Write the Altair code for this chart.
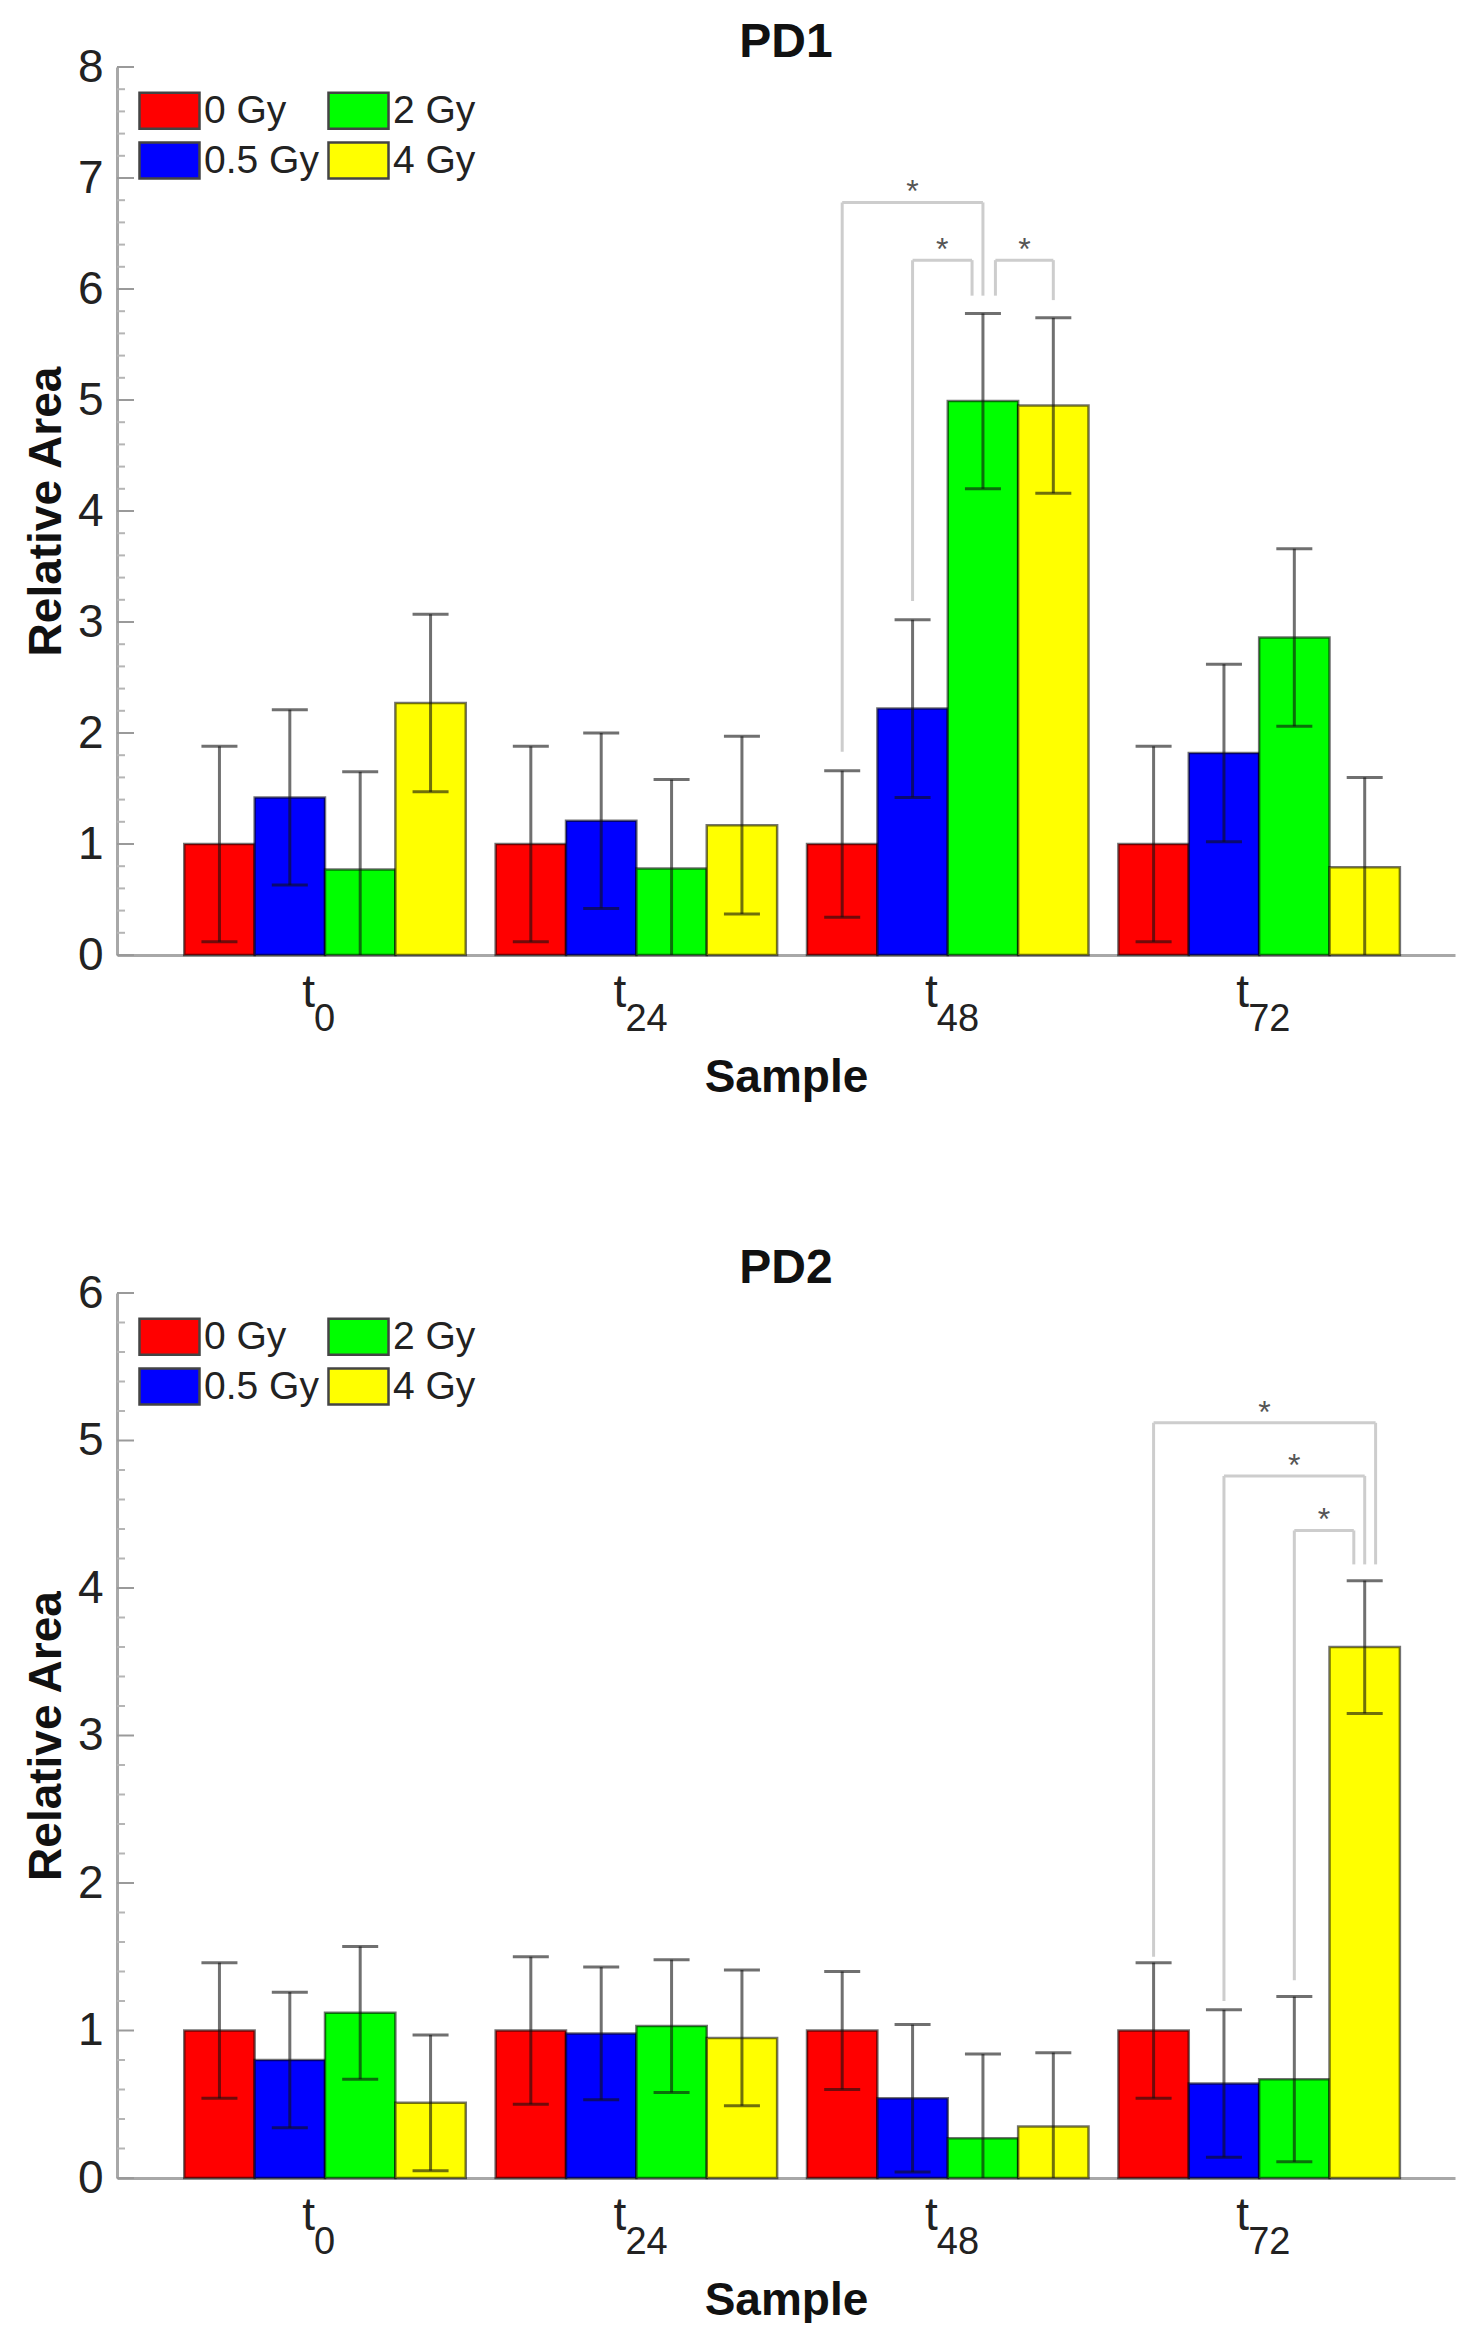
import altair as alt
import pandas as pd

FONT = "Liberation Sans, Arial, Helvetica, sans-serif"

SAMPLES = ["0", "24", "48", "72"]          # subscripts of the t labels
DOSES = ["0 Gy", "0.5 Gy", "2 Gy", "4 Gy"]
DOSE_COLORS = ["#ff0000", "#0000ff", "#00ff00", "#ffff00"]
LEGEND_ORDER = ["0 Gy", "2 Gy", "0.5 Gy", "4 Gy"]   # column-major legend

# PD1: mean relative area per dose, one value per sample (t0, t24, t48, t72)
PD1_0GY = [1.00, 1.00, 1.00, 1.00]
PD1_05GY = [1.42, 1.21, 2.22, 1.82]
PD1_2GY = [0.77, 0.78, 4.99, 2.86]
PD1_4GY = [2.27, 1.17, 4.95, 0.79]
PD1_ERR_0GY = [0.88, 0.88, 0.66, 0.88]
PD1_ERR_05GY = [0.79, 0.79, 0.80, 0.80]
PD1_ERR_2GY = [0.88, 0.80, 0.79, 0.80]
PD1_ERR_4GY = [0.80, 0.80, 0.79, 0.81]

# PD2
PD2_0GY = [1.00, 1.00, 1.00, 1.00]
PD2_05GY = [0.80, 0.98, 0.54, 0.64]
PD2_2GY = [1.12, 1.03, 0.27, 0.67]
PD2_4GY = [0.51, 0.95, 0.35, 3.60]
PD2_ERR_0GY = [0.46, 0.50, 0.40, 0.46]
PD2_ERR_05GY = [0.46, 0.45, 0.50, 0.50]
PD2_ERR_2GY = [0.45, 0.45, 0.57, 0.56]
PD2_ERR_4GY = [0.46, 0.46, 0.50, 0.45]

# significance brackets: (sample, dose) of each end, heights of bar/legs
PD1_BR_FROM = [(2, 0), (2, 1), (2, 2)]
PD1_BR_TO = [(2, 2), (2, 2), (2, 3)]
PD1_BR_TOP = [6.78, 6.26, 6.26]
PD1_BR_FROM_Y = [1.83, 3.19, 5.94]
PD1_BR_TO_Y = [5.94, 5.94, 5.90]
PD1_BR_NUDGE = [(0.0, 0.0), (0.0, -0.035), (0.04, 0.0)]

PD2_BR_FROM = [(3, 0), (3, 1), (3, 2)]
PD2_BR_TO = [(3, 3), (3, 3), (3, 3)]
PD2_BR_TOP = [5.12, 4.76, 4.39]
PD2_BR_FROM_Y = [1.50, 1.20, 1.34]
PD2_BR_TO_Y = [4.16, 4.16, 4.16]
PD2_BR_NUDGE = [(0.0, 0.035), (0.0, 0.0), (0.0, -0.035)]

BAR_W = 0.226
X_DOMAIN = [-0.668, 3.629]
PLOT_W = 1338


def bar_x(g, k):
    return g + (k - 1.5) * BAR_W


def make_panel(title, means, errs, ymax, height, br_from, br_to, br_top, br_from_y, br_to_y, br_nudge):
    rows = []
    for k, dose in enumerate(DOSES):
        for g in range(len(SAMPLES)):
            x = bar_x(g, k)
            m, e = means[k][g], errs[k][g]
            rows.append({"dose": dose, "x": x, "x0": x - BAR_W / 2, "x1": x + BAR_W / 2,
                         "mean": m, "lo": m - e, "hi": m + e})
    df = pd.DataFrame(rows)
    caps = pd.concat([df[["x", "lo"]].rename(columns={"lo": "y"}),
                      df[["x", "hi"]].rename(columns={"hi": "y"})])

    segs, stars = [], []
    for (fg, fk), (tg, tk), top, fy, ty, (nf, nt) in zip(br_from, br_to, br_top, br_from_y, br_to_y, br_nudge):
        xa, xb = bar_x(fg, fk) + nf, bar_x(tg, tk) + nt
        segs += [{"x": xa, "x2": xa, "y": fy, "y2": top},
                 {"x": xa, "x2": xb, "y": top, "y2": top},
                 {"x": xb, "x2": xb, "y": ty, "y2": top}]
        stars.append({"x": (xa + xb) / 2, "y": top})
    segs, stars = pd.DataFrame(segs), pd.DataFrame(stars)

    xs = alt.Scale(domain=X_DOMAIN, nice=False, zero=False)
    ys = alt.Scale(domain=[0, ymax], nice=False)

    bars = alt.Chart(df).mark_bar(stroke="black", strokeOpacity=0.55, strokeWidth=2.5).encode(
        x=alt.X("x0:Q", scale=xs, axis=alt.Axis(
            title="Sample", labels=False, ticks=False, grid=False, domainColor="#a8a8a8",
            domainWidth=3, titleFontSize=46, titleFontWeight="bold", titlePadding=100)),
        x2="x1:Q",
        y=alt.Y("mean:Q", scale=ys, stack=None, axis=alt.Axis(
            title="Relative Area", values=list(range(ymax + 1)), format="d", ticks=False, grid=False,
            domainColor="#a8a8a8", domainWidth=3, labelFontSize=46, labelPadding=14,
            titleFontSize=46, titleFontWeight="bold", titlePadding=7)),
        y2=alt.datum(0),
        color=alt.Color("dose:N", scale=alt.Scale(
            domain=LEGEND_ORDER, range=[DOSE_COLORS[DOSES.index(d)] for d in LEGEND_ORDER]),
            legend=alt.Legend(
                title=None, orient="none", legendX=33, legendY=24, columns=2, direction="horizontal",
                symbolType="M-1.667,-1H1.667V1H-1.667Z", symbolSize=1296, symbolStrokeColor="#444",
                symbolStrokeWidth=2.5, symbolOpacity=1, labelFontSize=39, labelFont=FONT,
                labelColor="#222", labelOffset=15, columnPadding=4, rowPadding=3, padding=0)),
    )
    whisk = alt.Chart(df).mark_rule(color="#111", opacity=0.6, strokeWidth=3, clip=True).encode(
        x="x:Q", y="lo:Q", y2="hi:Q")
    capm = alt.Chart(caps).mark_tick(color="#111", opacity=0.6, orient="horizontal", size=36,
                                     thickness=3, clip=True).encode(x="x:Q", y="y:Q")
    brk = alt.Chart(segs).mark_rule(color="#cdcdcd", strokeWidth=3).encode(
        x="x:Q", x2="x2:Q", y="y:Q", y2="y2:Q")
    star = alt.Chart(stars).mark_text(text="*", fontSize=32, color="#555", dy=-10, baseline="middle",
                                      font=FONT).encode(x="x:Q", y="y:Q")

    ticks = pd.DataFrame({"v": [i / 5 for i in range(ymax * 5 + 1)]})
    ticks["major"] = ticks["v"] % 1 == 0
    major = alt.Chart(ticks).transform_filter("datum.major").mark_rule(color="#9a9a9a", strokeWidth=2).encode(
        x=alt.value(0), x2=alt.value(17), y="v:Q")
    minor = alt.Chart(ticks).transform_filter("!datum.major").mark_rule(color="#b5b5b5", strokeWidth=2).encode(
        x=alt.value(0), x2=alt.value(8), y="v:Q")

    labs = pd.DataFrame({"x": list(range(len(SAMPLES))), "sub": SAMPLES})
    t_lab = alt.Chart(labs).mark_text(text="t", fontSize=46, font=FONT, align="right", dx=-10,
                                      baseline="alphabetic", color="#222").encode(
        x="x:Q", y=alt.value(height + 52))
    s_lab = alt.Chart(labs).mark_text(fontSize=38, font=FONT, align="left", dx=-11,
                                      baseline="alphabetic", color="#222").encode(
        x="x:Q", y=alt.value(height + 76), text="sub:N")

    return alt.layer(bars, whisk, capm, brk, star, major, minor, t_lab, s_lab).properties(
        width=PLOT_W, height=height,
        title=alt.TitleParams(title, fontSize=48, fontWeight="bold", font=FONT, color="#111",
                              offset=-23, frame="group"),
    )


pd1 = make_panel("PD1", [PD1_0GY, PD1_05GY, PD1_2GY, PD1_4GY],
                 [PD1_ERR_0GY, PD1_ERR_05GY, PD1_ERR_2GY, PD1_ERR_4GY], 8, 888,
                 PD1_BR_FROM, PD1_BR_TO, PD1_BR_TOP, PD1_BR_FROM_Y, PD1_BR_TO_Y, PD1_BR_NUDGE)
pd2 = make_panel("PD2", [PD2_0GY, PD2_05GY, PD2_2GY, PD2_4GY],
                 [PD2_ERR_0GY, PD2_ERR_05GY, PD2_ERR_2GY, PD2_ERR_4GY], 6, 885,
                 PD2_BR_FROM, PD2_BR_TO, PD2_BR_TOP, PD2_BR_FROM_Y, PD2_BR_TO_Y, PD2_BR_NUDGE)

chart = (
    alt.vconcat(pd1, pd2, spacing=145)
    .resolve_scale(color="independent", y="independent")
    .resolve_legend(color="independent")
    .configure(font=FONT, padding={"left": 15, "top": 11, "right": 5, "bottom": 0})
    .configure_view(stroke=None)
    .configure_axis(labelFont=FONT, titleFont=FONT, labelColor="#222", titleColor="#111")
)

chart.save("out.html", embed_options={"renderer": "svg", "actions": False})
